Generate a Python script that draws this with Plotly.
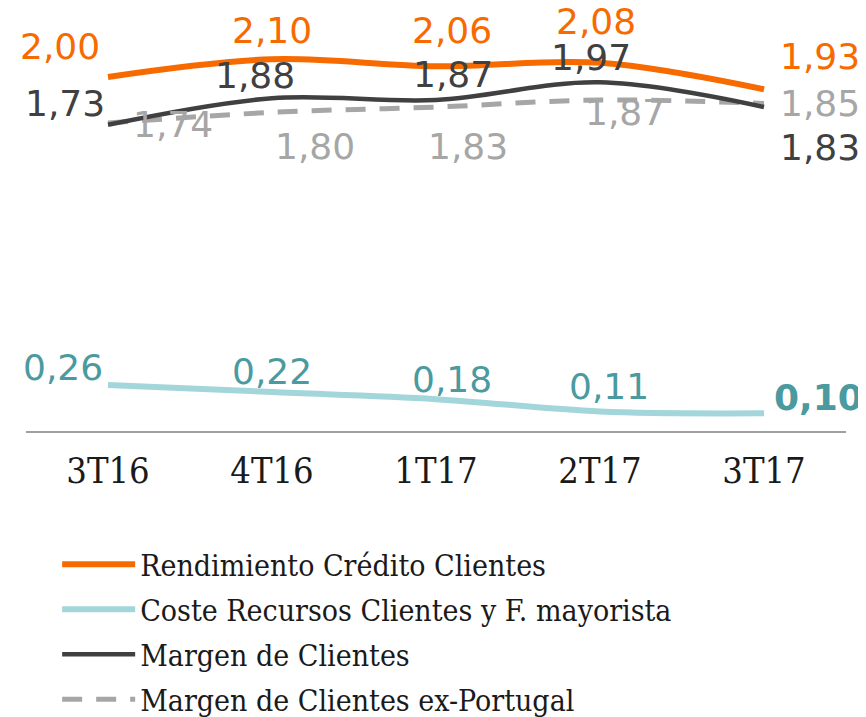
import plotly.graph_objects as go

categories = ["3T16", "4T16", "1T17", "2T17", "3T17"]
rendimiento = [2.00, 2.10, 2.06, 2.08, 1.93]
coste = [0.26, 0.22, 0.18, 0.11, 0.10]
margen = [1.73, 1.88, 1.87, 1.97, 1.83]
margen_exp = [1.74, 1.80, 1.83, 1.87, 1.85]

names = ["Rendimiento Crédito Clientes", "Coste Recursos Clientes y F. mayorista",
         "Margen de Clientes", "Margen de Clientes ex-Portugal"]

# styles
line_colors = ["#f76a00", "#a3d6da", "#404040", "#a6a6a6"]
label_colors = ["#f76a00", "#4a9aa0", "#404040", "#a6a6a6"]
widths = [6, 6, 4.5, 5]
dashes = ["solid", "solid", "solid", "20px,14px"]

# label offsets (px) per series per point
offsets = [
    [(-48, 30), (0, 29), (16, 36), (-4, 41), (56, 33)],
    [(-45, 17), (0, 21), (16, 20), (9, 25), (54, 16)],
    [(-43, 21), (-17, 23), (17, 25), (-9, 25), (56, -40)],
    [(65, -2), (43, -34), (32, -39), (25, -13), (56, 0)],
]

series = [rendimiento, coste, margen, margen_exp]

fig = go.Figure()
order = [3, 1, 2, 0]
for i in order:
    fig.add_trace(go.Scatter(
        x=categories, y=series[i], mode="lines", name=names[i],
        line=dict(color=line_colors[i], width=widths[i], dash=dashes[i],
                  shape="spline", smoothing=1.0),
        legendgroup=str(i), legendrank=i + 1, hoverinfo="skip",
    ))

def fmt(v):
    return f"{v:.2f}".replace(".", ",")

annotations = []
for i, vals in enumerate(series):
    for j, v in enumerate(vals):
        dx, dy = offsets[i][j]
        txt = fmt(v)
        if i == 1 and j == len(vals) - 1:
            txt = "<b>" + txt + "</b>"
        annotations.append(dict(
            x=categories[j], y=v, xref="x", yref="y", text=txt, showarrow=False,
            xshift=dx, yshift=dy,
            font=dict(family="DejaVu Sans", size=36, color=label_colors[i]),
        ))

fig.update_layout(
    width=858, height=709,
    margin=dict(l=18, r=20, t=7, b=286, autoexpand=False),
    paper_bgcolor="white", plot_bgcolor="white",
    showlegend=True,
    legend=dict(
        orientation="v", x=0.038, xanchor="left", y=-0.258, yanchor="top",
        font=dict(family="DejaVu Serif Condensed", size=30, color="#1a1a1a"),
        itemwidth=73, tracegroupgap=3, traceorder="grouped",
        bgcolor="rgba(0,0,0,0)",
    ),
    annotations=annotations,
    xaxis=dict(
        type="category", range=[-0.5, 4.5], showgrid=False, zeroline=False,
        showline=True, linecolor="#a0a0a0", linewidth=2,
        ticks="", ticklabelstandoff=7,
        tickfont=dict(family="DejaVu Serif Condensed", size=36, color="#1a1a1a"),
    ),
    yaxis=dict(range=[0, 2.35], visible=False, showgrid=False, zeroline=False),
)

fig.write_html("out.html")
